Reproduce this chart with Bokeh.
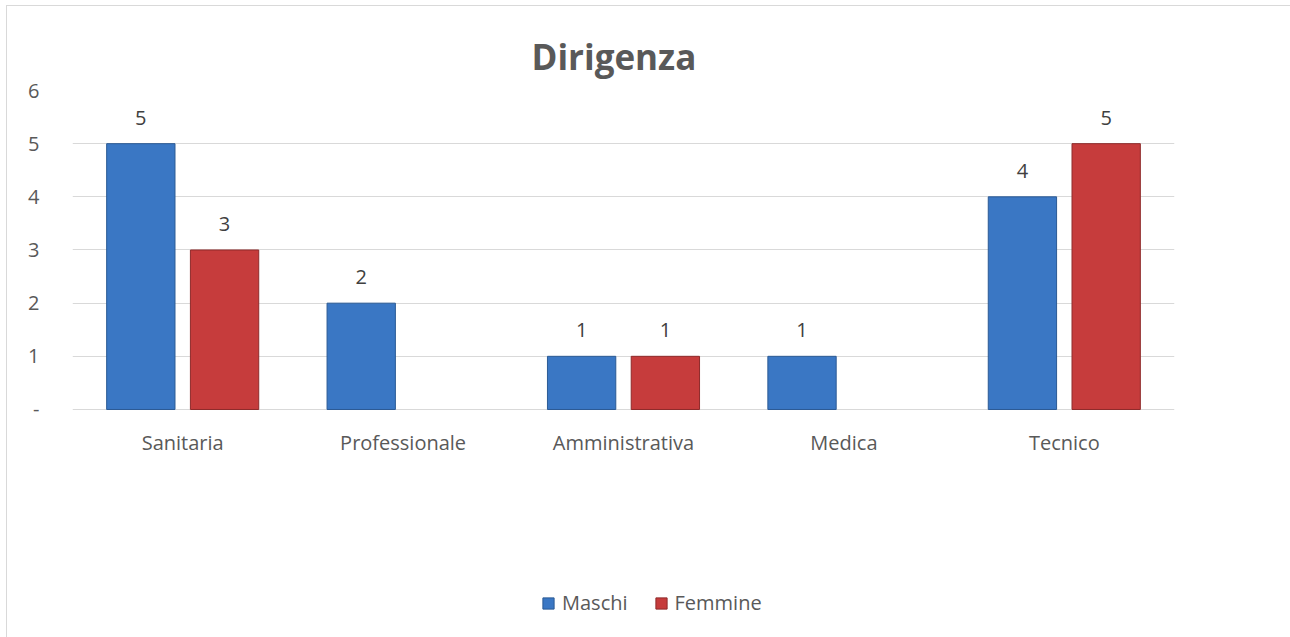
from bokeh.plotting import figure
from bokeh.models import ColumnDataSource, FixedTicker, Legend, LegendItem, Title
from bokeh.transform import dodge
from bokeh.embed import file_html
from bokeh.resources import INLINE
from bokeh.core.properties import value

categories = ["Sanitaria", "Professionale", "Amministrativa", "Medica", "Tecnico"]
maschi = [5, 2, 1, 1, 4]
femmine = [3, None, 1, None, 5]
y_ticks = [0, 1, 2, 3, 4, 5, 6]

FONT = "Open Sans"
TXT = "#595959"

src_m = ColumnDataSource(dict(cat=categories, val=maschi, lab=[str(v) for v in maschi]))
fc = [c for c, v in zip(categories, femmine) if v is not None]
fv = [v for v in femmine if v is not None]
src_f = ColumnDataSource(dict(cat=fc, val=fv, lab=[str(v) for v in fv]))
src_c = ColumnDataSource(dict(cat=categories, y=[0] * len(categories)))

# frame: 0..6 occupies 319px; extra room below for category labels and legend
p = figure(x_range=categories, y_range=(-4.176, 6), width=1284, height=632,
           output_backend="svg", toolbar_location=None,
           min_border_left=65, min_border_right=117, min_border_top=84, min_border_bottom=7)
p.styles = {"border-left": "1px solid #d9d9d9", "border-top": "1px solid #d9d9d9",
            "margin-left": "6px", "margin-top": "5px"}
p.outline_line_color = None
p.background_fill_color = "white"

p.title = Title(text="Dirigenza", align="left", offset=459, standoff=22,
                text_font=FONT, text_font_size="35px", text_font_style="bold",
                text_color=TXT)

blue_fill = "#3a77c4"
blue_line = "#2b5a94"
red_fill = "#c63c3c"
red_line = "#8e2a2a"

bm = p.vbar(x=dodge("cat", -0.19, range=p.x_range), top="val", bottom=0, width=0.31,
            source=src_m, fill_color=blue_fill, line_color=blue_line, line_width=1)
bf = p.vbar(x=dodge("cat", 0.19, range=p.x_range), top="val", bottom=0, width=0.31,
            source=src_f, fill_color=red_fill, line_color=red_line, line_width=1)

for src, off in ((src_m, -0.19), (src_f, 0.19)):
    p.text(x=dodge("cat", off, range=p.x_range), y="val", text="lab", source=src,
           text_align="center", text_baseline="middle", y_offset=-26,
           text_font=value(FONT), text_font_size="20px", text_color="#404040")

# category labels (x axis hidden because the frame extends below zero)
p.text(x="cat", y="y", text="cat", source=src_c, text_align="center",
       text_baseline="middle", y_offset=33,
       text_font=value(FONT), text_font_size="20px", text_color=TXT)
p.xaxis.visible = False

p.yaxis.ticker = FixedTicker(ticks=y_ticks)
p.yaxis.major_label_overrides = {0: "-"}
p.yaxis.axis_line_color = None
p.yaxis.major_tick_line_color = None
p.yaxis.minor_tick_line_color = None
p.yaxis.major_label_standoff = 27
p.yaxis.major_label_text_font = FONT
p.yaxis.major_label_text_font_size = "20px"
p.yaxis.major_label_text_color = TXT

p.xgrid.grid_line_color = None
p.ygrid.ticker = FixedTicker(ticks=y_ticks)
p.ygrid.grid_line_color = "#d9d9d9"
p.ygrid.grid_line_width = 1

legend = Legend(items=[LegendItem(label="Maschi", renderers=[bm]),
                       LegendItem(label="Femmine", renderers=[bf])],
                orientation="horizontal", location=(469, 15), padding=5,
                label_text_font=FONT, label_text_font_size="20px",
                label_text_color=TXT, glyph_width=14, glyph_height=14,
                spacing=26, label_standoff=7, border_line_color=None,
                background_fill_alpha=0)
p.add_layout(legend, "center")

open("out.html", "w").write(file_html(p, INLINE))
